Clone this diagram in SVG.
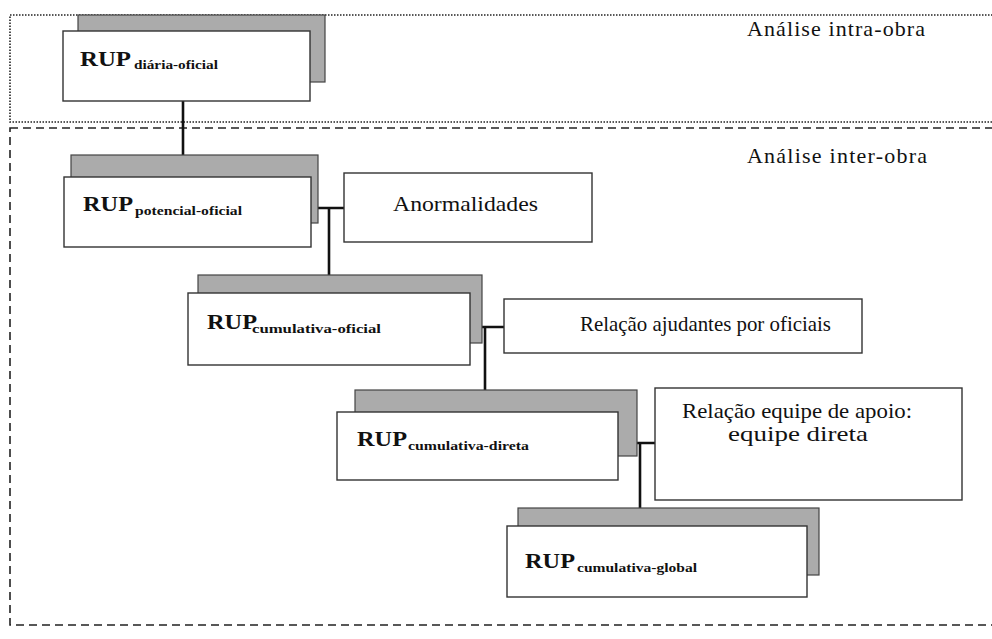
<svg xmlns="http://www.w3.org/2000/svg" width="992" height="639" viewBox="0 0 992 639">
  <style>
    .zone-dot { fill: none; stroke: #222; stroke-width: 1.6; stroke-dasharray: 1.5 1.5; }
    .zone-dash { fill: none; stroke: #222; stroke-width: 1.6; stroke-dasharray: 8 5; }
    .shadow { fill: #ababab; stroke: #444; stroke-width: 1.2; }
    .box { fill: #fff; stroke: #333; stroke-width: 1.4; }
    .wire { fill: none; stroke: #111; stroke-width: 2.6; }
    text { font-family: "Liberation Serif", "DejaVu Serif", serif; fill: #111; }
    .zlabel { font-size: 22px; }
    .label { font-size: 22px; }
    .rup { font-size: 22px; font-weight: bold; }
    .sub { font-size: 13px; font-weight: bold; }
  </style>

  <!-- analysis zones -->
  <g id="zone-intra">
    <rect class="zone-dot" x="10" y="15" width="1000" height="107"/>
    <text class="zlabel" x="747" y="36" textLength="178" lengthAdjust="spacing">Análise intra-obra</text>
  </g>
  <g id="zone-inter">
    <rect class="zone-dash" x="10" y="128" width="1000" height="497"/>
    <text class="zlabel" x="747" y="163" textLength="180" lengthAdjust="spacing">Análise inter-obra</text>
  </g>

  <!-- connectors -->
  <g id="connectors">
    <path class="wire" d="M183,101 V177"/>
    <path class="wire" d="M311,208 H344 M329,208 V293"/>
    <path class="wire" d="M470,327 H504 M485,327 V412"/>
    <path class="wire" d="M618,443 H655 M640,443 V526"/>
  </g>

  <g id="rup-diaria-oficial">
    <rect class="shadow" x="78" y="15" width="247" height="67"/>
    <rect class="box" x="63" y="31" width="247" height="70"/>
    <text class="rup" x="80" y="66" textLength="51" lengthAdjust="spacingAndGlyphs">RUP</text>
    <text class="sub" x="134" y="69" textLength="84" lengthAdjust="spacingAndGlyphs">diária-oficial</text>
  </g>

  <g id="rup-potencial-oficial">
    <rect class="shadow" x="71" y="155" width="247" height="68"/>
    <rect class="box" x="64" y="177" width="247" height="70"/>
    <text class="rup" x="83" y="211" textLength="50" lengthAdjust="spacingAndGlyphs">RUP</text>
    <text class="sub" x="135" y="215" textLength="107" lengthAdjust="spacingAndGlyphs">potencial-oficial</text>
  </g>

  <g id="anormalidades">
    <rect class="box" x="344" y="173" width="248" height="69"/>
    <text class="label" x="393" y="211" textLength="145" lengthAdjust="spacingAndGlyphs">Anormalidades</text>
  </g>

  <g id="rup-cumulativa-oficial">
    <rect class="shadow" x="198" y="275" width="284" height="68"/>
    <rect class="box" x="188" y="293" width="282" height="72"/>
    <text class="rup" x="207" y="329" textLength="50" lengthAdjust="spacingAndGlyphs">RUP</text>
    <text class="sub" x="252" y="333" textLength="129" lengthAdjust="spacingAndGlyphs">cumulativa-oficial</text>
  </g>

  <g id="relacao-ajudantes">
    <rect class="box" x="504" y="299" width="358" height="54"/>
    <text class="label" x="580" y="331" textLength="251" lengthAdjust="spacingAndGlyphs">Relação ajudantes por oficiais</text>
  </g>

  <g id="rup-cumulativa-direta">
    <rect class="shadow" x="355" y="390" width="282" height="66"/>
    <rect class="box" x="337" y="412" width="281" height="68"/>
    <text class="rup" x="357" y="446" textLength="50" lengthAdjust="spacingAndGlyphs">RUP</text>
    <text class="sub" x="408" y="450" textLength="121" lengthAdjust="spacingAndGlyphs">cumulativa-direta</text>
  </g>

  <g id="relacao-equipe">
    <rect class="box" x="655" y="388" width="307" height="112"/>
    <text class="label" x="682" y="418" textLength="230" lengthAdjust="spacingAndGlyphs">Relação equipe de apoio:</text>
    <text class="label" x="728" y="441" textLength="140" lengthAdjust="spacingAndGlyphs">equipe direta</text>
  </g>

  <g id="rup-cumulativa-global">
    <rect class="shadow" x="518" y="508" width="301" height="67"/>
    <rect class="box" x="507" y="526" width="300" height="71"/>
    <text class="rup" x="525" y="568" textLength="50" lengthAdjust="spacingAndGlyphs">RUP</text>
    <text class="sub" x="577" y="572" textLength="120" lengthAdjust="spacingAndGlyphs">cumulativa-global</text>
  </g>
</svg>
